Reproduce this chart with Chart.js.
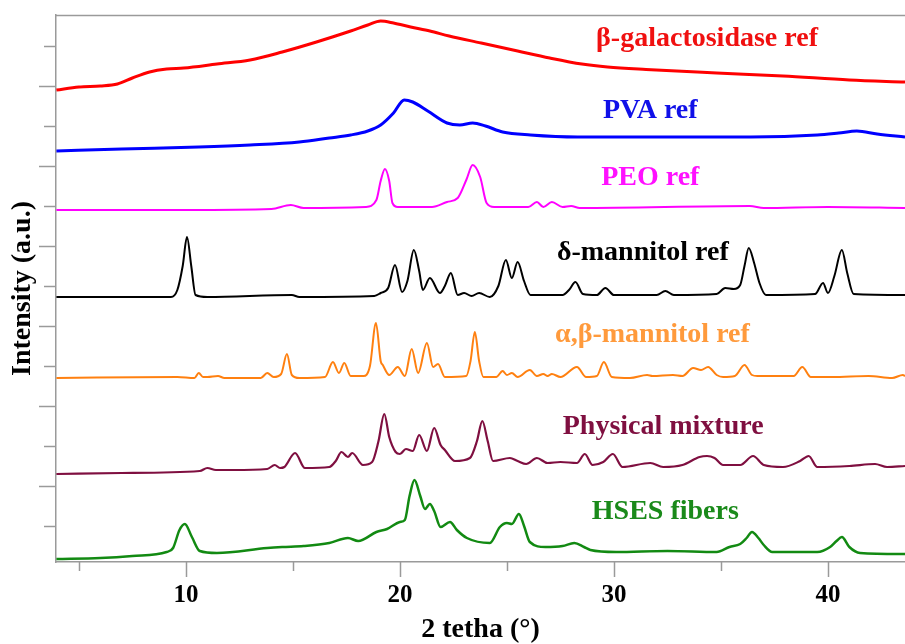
<!DOCTYPE html>
<html>
<head>
<meta charset="utf-8">
<script src="https://cdn.jsdelivr.net/npm/chart.js@4.4.1/dist/chart.umd.min.js"></script>
<style>
  html, body { margin: 0; padding: 0; background: #fff; }
  #wrap { width: 905px; height: 644px; }
</style>
</head>
<body>
<div id="wrap"><canvas id="xrd"></canvas></div>
<script>
// 2 theta (deg), intensity (a.u., stacked as plotted)
var galactosidase = [[3.95,476],[5,479],[6,480],[6.8,482],[7.5,488],[8.3,494],[9.1,497],[9.9,498],[11.45,502],[13,506],[14.5,514],[16.1,524],[17.7,535],[18.5,541],[19.1,545],[19.7,543],[20.5,539],[21.4,535],[22.3,530],[23.8,523],[25.5,515],[27,508],[28.5,502],[29.7,499],[31.5,496.5],[34.8,493],[37.9,490],[41,486],[43.6,484]];

var pva = [[3.95,415],[7,417],[10.6,419],[13,421],[15.3,424],[16.7,428],[17.7,431],[18.5,435],[19.1,441],[19.7,453],[20.2,466],[20.6,464],[21.3,455],[22.2,443],[22.8,441],[23.4,443],[24,440],[24.8,434],[26.1,431],[28.3,429],[31.7,429],[36.4,429],[39.5,431],[40.5,433],[41.35,435],[42.3,432],[43.6,429]];

var peo = [[3.95,356],[10,356],[14,357],[14.9,361],[15.5,358],[18.4,359],[18.9,366],[19.1,385],[19.3,397],[19.5,385],[19.65,363],[19.9,359],[21.5,359],[22.2,364],[22.7,368],[23.1,386],[23.4,401],[23.75,389],[24.05,363],[24.4,359],[26,359],[26.4,364],[26.7,359],[27.1,364],[27.6,359],[28,360],[28.4,358],[36.35,360],[37,358],[40,359],[43.6,358]];

var deltaMannitol = [[3.95,269],[9.3,269],[9.6,276],[9.85,300],[10.05,329],[10.25,300],[10.45,271],[11,269],[14.95,271],[15.3,269],[18.8,270],[19.1,273],[19.45,278],[19.77,301],[20.1,274],[20.35,285],[20.65,316],[20.9,295],[21.07,276],[21.4,288],[21.87,273],[22.1,280],[22.38,293],[22.7,271],[23,273],[23.35,270],[23.7,273],[24.2,269],[24.6,280],[24.95,306],[25.23,288],[25.5,304],[25.8,285],[26.1,271],[27.6,271],[27.9,276],[28.2,284],[28.55,272],[29.2,271],[29.6,278],[30,271],[32,271],[32.4,275],[32.8,271],[34.8,272],[35.2,278],[35.6,277],[35.9,281],[36.1,300],[36.3,318],[36.55,303],[36.8,283],[37.1,271],[39.4,272],[39.77,283],[40,273],[40.3,290],[40.65,316],[40.9,293],[41.2,272],[43.6,271]];

var abMannitol = [[3.95,188],[9.6,189],[10.4,188],[10.6,193],[10.8,189],[11,189],[11.5,190],[11.8,188],[13.5,188],[13.8,193],[14.1,189],[14.45,192],[14.72,212],[14.95,191],[15.3,188],[16.5,189],[16.87,204],[17.15,193],[17.4,203],[17.7,190],[18.3,190],[18.6,200],[18.88,243],[19.1,205],[19.2,201],[19.5,191],[19.9,199],[20.23,190],[20.55,217],[20.85,193],[21.26,223],[21.55,199],[21.78,202],[22.1,189],[23.1,190],[23.3,205],[23.5,234],[23.7,205],[23.9,189],[24.5,189],[24.8,195],[25,191],[25.23,193],[25.5,189],[26.07,196],[26.4,190],[26.7,192],[26.9,190],[27.1,192],[27.5,189],[28.27,199],[28.7,189],[29.2,190],[29.53,204],[29.9,189],[30.75,188],[31.55,191],[31.8,190],[32.76,191],[33.2,190],[33.7,198],[34.07,196],[34.4,199],[34.8,191],[35.1,189],[35.65,190],[36.1,201],[36.45,191],[36.7,190],[38.4,190],[38.8,199],[39.2,189],[40.2,189],[41.9,190],[43,188],[43.5,191],[43.6,190]];

var physicalMixture = [[3.95,92],[7,93],[10.65,95],[11,98],[11.4,96],[12.2,96],[13.8,97],[14.15,101],[14.4,98],[14.6,99],[15.1,113],[15.56,98],[16.7,99],[17,105],[17.27,114],[17.57,109],[17.77,113],[18.27,101],[18.7,104],[19,125],[19.27,152],[19.5,129],[19.8,114],[20,112],[20.28,117],[20.6,115],[20.9,131],[21.26,115],[21.6,138],[21.9,121],[22.1,116],[22.57,105],[23.27,108],[23.6,125],[23.85,145],[24.1,125],[24.35,105],[25.14,108],[25.5,105],[25.9,102],[26.4,108],[26.9,103],[27.5,104],[28.27,103],[28.64,112],[29,101],[29.5,104],[29.95,112],[30.4,99],[31.7,103],[32.3,99],[33.2,101],[34,109],[34.35,110],[34.7,108],[35.1,101],[35.9,101],[36.5,110],[37,101],[37.9,99],[38.7,105],[39.1,110],[39.5,99],[41,100],[42.2,102],[42.76,99],[43.6,100]];

var hsesFibers = [[3.95,7],[6,8],[7.5,10],[9.1,14],[9.4,18],[9.7,36],[9.95,42],[10.28,29],[10.65,15],[11.45,13],[13.8,18],[14.5,19],[15.5,20],[16.7,23],[17.57,28],[18.05,25],[18.9,34],[19.4,37],[20,44],[20.23,46],[20.45,70],[20.68,86],[20.95,70],[21.17,57],[21.4,62],[21.6,55],[21.9,39],[22.34,44],[22.66,36],[23.13,28],[24.2,23],[24.67,39],[25,43],[25.23,42],[25.56,52],[25.8,40],[26.07,24],[26.8,19],[27.6,20],[28.15,23],[28.6,19],[28.9,16],[30.1,14],[32.5,15],[34.8,14],[35.4,19],[35.9,22],[36.2,28],[36.45,34],[36.75,28],[37,21],[37.4,14],[39.5,14],[40.1,19],[40.4,25],[40.65,29],[41,19],[41.5,13],[43.6,12]];

var seriesNames = ["β-galactosidase ref", "PVA ref", "PEO ref", "δ-mannitol ref", "α,β-mannitol ref", "Physical mixture", "HSES fibers"];
var seriesData = [galactosidase, pva, peo, deltaMannitol, abMannitol, physicalMixture, hsesFibers];
var lineColors = ['#ff0000', '#0000ff', '#ff00ff', '#000000', '#ff8010', '#7f0f40', '#128a12'];
var textColors = ['#f01010', '#1010e8', '#ff10ff', '#000000', '#ff9a3c', '#7f0f40', '#1a8a1a'];
var lineWidths = [3, 3, 2, 2, 2, 2.2, 2.5];
// label anchors [2theta, intensity]
var labelPos = [[34.35,527],[31.7,455],[31.7,388],[31.35,313],[31.8,231],[32.3,139],[32.4,54]];

var xTicks = [5, 10, 15, 20, 25, 30, 35, 40];
var yTicks = [40, 80, 120, 160, 200, 240, 280, 320, 360, 400, 440, 480, 520];

var axisGray = '#9a9a9a';

var datasets = seriesData.map(function (pts, i) {
  return {
    label: seriesNames[i],
    data: pts.map(function (p) { return {x: p[0], y: p[1]}; }),
    borderColor: lineColors[i],
    borderWidth: lineWidths[i],
    pointRadius: 0,
    cubicInterpolationMode: 'monotone',
    fill: false
  };
});

// custom ticks (two lengths), top frame line and the trace labels
var decorPlugin = {
  id: 'decor',
  afterDraw: function (chart) {
    var ctx = chart.ctx, xs = chart.scales.x, ys = chart.scales.y, a = chart.chartArea;
    ctx.save();
    ctx.strokeStyle = axisGray;
    ctx.lineWidth = 1.5;
    ctx.beginPath();
    ctx.moveTo(a.left, a.top + 0.5);
    ctx.lineTo(a.right, a.top + 0.5);
    xTicks.forEach(function (v) {
      var px = Math.round(xs.getPixelForValue(v)) + 0.5;
      var len = (v % 10 === 0) ? 15 : 9;
      ctx.moveTo(px, a.bottom);
      ctx.lineTo(px, a.bottom + len);
    });
    yTicks.forEach(function (v) {
      var py = Math.round(ys.getPixelForValue(v)) + 0.5;
      var len = (v % 80 === 0) ? 17 : 12;
      ctx.moveTo(a.left, py);
      ctx.lineTo(a.left - len, py);
    });
    ctx.stroke();

    ctx.font = 'bold 28px "Liberation Serif"';
    ctx.textAlign = 'center';
    ctx.textBaseline = 'middle';
    labelPos.forEach(function (p, i) {
      ctx.fillStyle = textColors[i];
      ctx.fillText(seriesNames[i], xs.getPixelForValue(p[0]), ys.getPixelForValue(p[1]));
    });
    ctx.restore();
  }
};

var config = {
  type: 'line',
  data: {datasets: datasets},
  options: {
    responsive: true,
    maintainAspectRatio: false,
    animation: false,
    layout: {padding: {top: 15, right: 0, left: 0, bottom: 0}},
    plugins: {legend: {display: false}, tooltip: {enabled: false}},
    scales: {
      x: {
        type: 'linear',
        min: 3.93,
        max: 43.6,
        afterBuildTicks: function (scale) {
          scale.ticks = xTicks.map(function (v) { return {value: v}; });
        },
        afterFit: function (scale) { scale.height = 82; },
        grid: {drawOnChartArea: false, color: 'rgba(0,0,0,0)', tickLength: 15},
        border: {color: axisGray, width: 1.5},
        ticks: {
          autoSkip: false,
          maxRotation: 0,
          padding: 4,
          color: '#000',
          font: {family: 'Liberation Serif', size: 25, weight: 'bold'},
          callback: function (v) { return v % 10 === 0 ? v : ''; }
        },
        title: {
          display: true,
          text: '2 tetha (°)',
          color: '#000',
          font: {family: 'Liberation Serif', size: 28, weight: 'bold', lineHeight: 1},
          padding: {top: 0, bottom: 0}
        }
      },
      y: {
        type: 'linear',
        min: 4,
        max: 551,
        afterFit: function (scale) { scale.width = 56; },
        grid: {drawOnChartArea: false, color: 'rgba(0,0,0,0)', tickLength: 17},
        border: {color: axisGray, width: 1.5},
        ticks: {display: false},
        title: {
          display: true,
          text: 'Intensity (a.u.)',
          color: '#000',
          font: {family: 'Liberation Serif', size: 28, weight: 'bold', lineHeight: 1},
          padding: {top: 9, bottom: 0}
        }
      }
    }
  },
  plugins: [decorPlugin]
};

var myChart = new Chart(document.getElementById('xrd'), config);
</script>
</body>
</html>
